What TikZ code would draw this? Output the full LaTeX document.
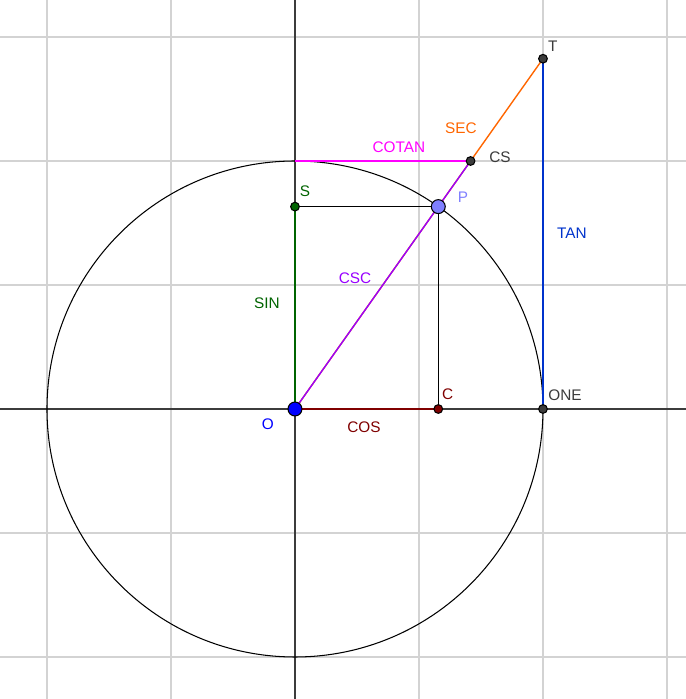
\documentclass[tikz,border=0pt]{standalone}
\usepackage{fontspec}
\setmainfont{Liberation Sans}
\definecolor{gridgray}{RGB}{211,211,211}
\definecolor{axisgray}{RGB}{60,60,60}
\definecolor{singreen}{RGB}{0,100,0}
\definecolor{cosred}{RGB}{128,0,0}
\definecolor{tanblue}{RGB}{0,51,204}
\definecolor{secorange}{RGB}{255,102,0}
\definecolor{cotmagenta}{RGB}{255,0,255}
\definecolor{cscpurple}{RGB}{153,0,255}
\definecolor{pblue}{RGB}{127,127,255}
\tikzset{
  dot/.style={circle, draw=black, line width=0.6pt, inner sep=0pt, minimum size=5pt},
  bigdot/.style={dot, minimum size=8pt},
  lbl/.style={font=\fontsize{8.8}{10}\selectfont, inner sep=0pt}
}
\begin{document}
\begin{tikzpicture}[x=5cm, y=5cm, line width=0.8pt]
  \useasboundingbox (-1.1895,-1.1694) rectangle (1.5766,1.6492);
  \fill[white] (-1.1895,-1.1694) rectangle (1.5766,1.6492);
  % grid
  \foreach \g in {-1, -0.5, 0.5, 1, 1.5}{
    \draw[gridgray, line width=1pt] (\g,-1.1694) -- (\g,1.6492);
    \draw[gridgray, line width=1pt] (-1.1895,\g) -- (1.5766,\g);
  }
  % axes
  \draw[axisgray] (-1.1895,0) -- (1.5766,0);
  \draw[axisgray] (0,-1.1694) -- (0,1.6492);
  \draw[line width=0.6pt] (0,0) circle (1);
  % points
  \coordinate (O) at (0,0);
  \coordinate (P) at (54.7:1);
  \coordinate (S) at (0,{sin(54.7)});
  \coordinate (C) at ({cos(54.7)},0);
  \coordinate (ONE) at (1,0);
  \coordinate (T) at (1,{tan(54.7)});
  \coordinate (CS) at ({cot(54.7)},1);
  \coordinate (top) at (0,1);
  % segments
  \draw[black] (S) -- (P) -- (C);
  \draw[secorange] (O) -- (T);
  \draw[cscpurple] (O) -- (CS);
  \draw[cotmagenta] (top) -- (CS);
  \draw[tanblue] (ONE) -- (T);
  \draw[singreen] (O) -- (S);
  \draw[cosred] (O) -- (C);
  % dots
  \node[dot, fill=singreen] (s) at (S) {};
  \node[dot, fill=cosred] (c) at (C) {};
  \node[dot, fill=axisgray] (one) at (ONE) {};
  \node[dot, fill=axisgray] (t) at (T) {};
  \node[dot, fill=axisgray] (cs) at (CS) {};
  \node[bigdot, fill=pblue] (p) at (P) {};
  \node[bigdot, fill=blue] (o) at (O) {};
  % labels
  \node[lbl, text=blue] at (-0.109,-0.060) {O};
  \node[lbl, text=cosred] at (0.278,-0.073) {COS};
  \node[lbl, text=cosred] at (0.616,0.060) {C};
  \node[lbl, text=axisgray] at (1.089,0.056) {ONE};
  \node[lbl, text=tanblue] at (1.117,0.710) {TAN};
  \node[lbl, text=axisgray] at (1.040,1.464) {T};
  \node[lbl, text=secorange] at (0.669,1.133) {SEC};
  \node[lbl, text=axisgray] at (0.827,1.016) {CS};
  \node[lbl, text=cotmagenta] at (0.419,1.056) {COTAN};
  \node[lbl, text=pblue] at (0.677,0.855) {P};
  \node[lbl, text=singreen] at (0.040,0.879) {S};
  \node[lbl, text=singreen] at (-0.113,0.427) {SIN};
  \node[lbl, text=cscpurple] at (0.242,0.528) {CSC};
\end{tikzpicture}
\end{document}
